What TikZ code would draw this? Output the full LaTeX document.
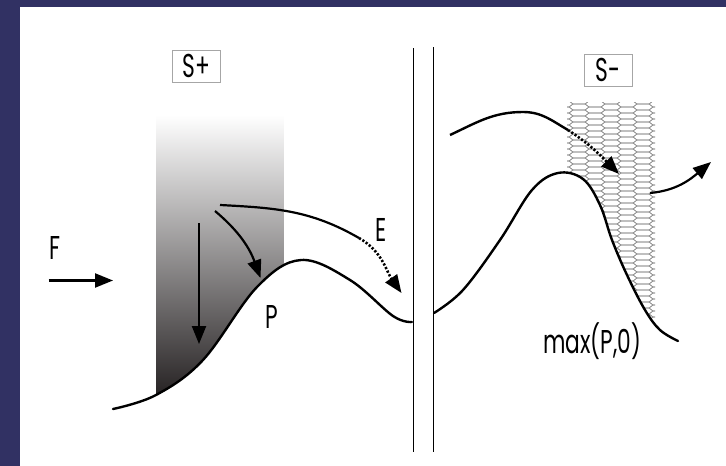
\documentclass[tikz,border=0pt]{standalone}
\usepackage{fontspec}
\setmainfont{Poppins}[FakeStretch=0.66]
\usepackage{tikz}
\usetikzlibrary{arrows.meta}

\definecolor{navy}{RGB}{49,49,99}
\definecolor{inkdark}{RGB}{35,31,32}
\definecolor{inkmid}{RGB}{140,138,138}
\newcommand{\lblfont}{\fontsize{33}{36}\selectfont}
\newcommand{\curveL}{plot[smooth, tension=0.6] coordinates {(113,409) (156,395) (203,360) (257,287) (301,260) (350,280) (393,316) (412,322)}}
\newcommand{\curveR}{plot[smooth, tension=0.6] coordinates {(434,313) (463,290) (500,240) (532,190) (558,173) (583,179) (600,205) (612,240) (627,275) (645,310) (660,330) (678,341)}}

\begin{document}
\begin{tikzpicture}[x=1pt, y=-1pt,
  curve/.style={line width=2.4pt, line cap=round},
  arr/.style={line width=2.2pt, -{Triangle[length=18pt,width=14pt]}},
  dotarr/.style={arr, line width=2.6pt, dash pattern=on 2.2pt off 1.8pt},
  wall/.style={line width=1.2pt},
  hex/.style={draw=gray!85, line width=0.6pt},
  tagbox/.style={draw=gray!70, line width=0.8pt, inner sep=0pt, minimum width=48pt, minimum height=32pt, font=\lblfont},
  lbl/.style={anchor=base, inner sep=0pt, font=\lblfont}]
  \useasboundingbox (0,0) rectangle (726,466);
  \fill[white] (0,0) rectangle (726,466);
  \fill[navy] (0,0) rectangle (726,7);
  \fill[navy] (0,0) rectangle (19.5,466);

  % shaded column under S+
  \begin{scope}
    \clip \curveL -- (412,100) -- (113,100) -- cycle;
    \shade[top color=white, middle color=inkmid, bottom color=inkdark] (156.5,115) rectangle (283.8,400);
  \end{scope}

  % honeycomb under S-
  \begin{scope}
    \clip \curveR -- (678,90) -- (434,90) -- cycle;
    \clip (567,102) rectangle (655,345);
    \foreach \i in {0,...,6}
      \foreach \j in {0,...,42} {
        \pgfmathsetmacro\cx{563+16*\i}
        \pgfmathsetmacro\cy{98+6*\j+3*mod(\i,2)}
        \draw[hex] (\cx-10,\cy) -- ++(4,-3) -- ++(12,0) -- ++(4,3) -- ++(-4,3) -- ++(-12,0) -- cycle;
      }
  \end{scope}

  % profiles
  \draw[curve] \curveL;
  \draw[curve] \curveR;

  % walls
  \coordinate (wlt) at (413.4,48);
  \coordinate (wlb) at (413.4,452);
  \coordinate (wrt) at (433.8,47);
  \coordinate (wrb) at (433.8,452);
  \draw[wall] (wlt) -- (wlb);
  \draw[wall] (wrt) -- (wrb);

  % arrows
  \coordinate (fa) at (48.5,280.5);
  \coordinate (fb) at (113,280.5);
  \draw[arr] (fa) -- (fb);

  \coordinate (va) at (199,223);
  \coordinate (vb) at (199,344);
  \draw[arr] (va) -- (vb);

  \coordinate (ca) at (215,211);
  \coordinate (cb) at (260.5,278);
  \draw[arr] (ca) to[out=-40, in=110] (cb);

  \coordinate (ea) at (220,205);
  \coordinate (eb) at (359,238);
  \coordinate (ec) at (401.5,293);
  \draw[line width=2.2pt] (ea) to[out=-3, in=150] (eb);
  \draw[dotarr] (eb) to[out=-30, in=125] (ec);

  \coordinate (ua) at (450,135);
  \coordinate (up) at (523,112);
  \coordinate (ub) at (568,130);
  \coordinate (uc) at (619,174);
  \draw[line width=2.4pt] (ua) to[out=25, in=180] (up) to[out=0, in=150] (ub);
  \draw[dotarr] (ub) to[out=-33, in=135] (uc);

  \coordinate (xa) at (650,193);
  \coordinate (xb) at (711,162);
  \draw[arr] (xa) to[out=5, in=-140] (xb);

  % labels
  \node[tagbox] (splus) at (196.7,66) {S+};
  \node[tagbox] (sminus) at (608.3,70) {S-};
  \node[lbl] (lf) at (54.5,259) {F};
  \node[lbl] (lp) at (271.5,328) {P};
  \node[lbl] (le) at (381,241.7) {E};
  \node[lbl] (lmax) at (592,353) {max(P,0)};
\end{tikzpicture}
\end{document}
